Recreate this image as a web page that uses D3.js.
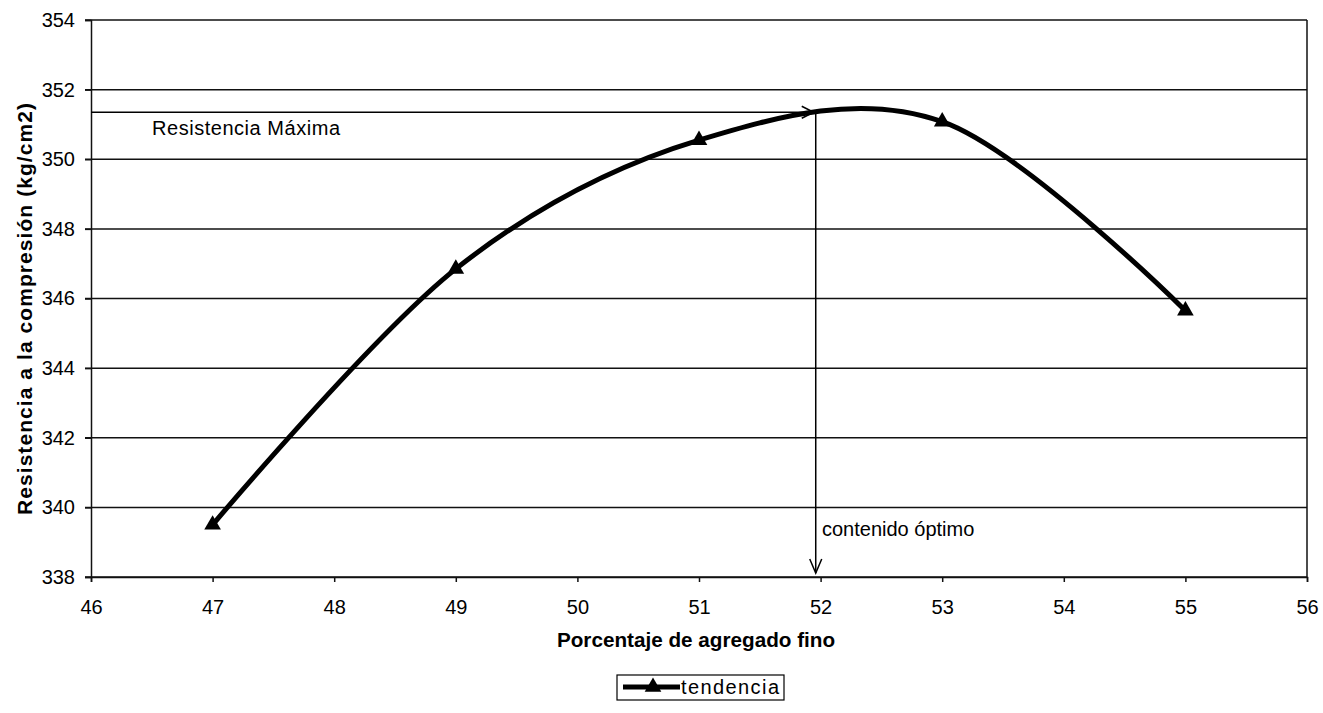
<!DOCTYPE html>
<html>
<head>
<meta charset="utf-8">
<script src="https://cdn.jsdelivr.net/npm/d3@7"></script>
<style>
  body { margin: 0; background: #fff; }
  svg text { font-family: "Liberation Sans", Arial, sans-serif; fill: #000; }
</style>
</head>
<body>
<svg id="chart" width="1323" height="713"></svg>
<script>
let porcentaje = [47, 49, 51, 53, 55];
let resistencia = [339.5, 346.85, 350.55, 351.08, 345.65];
let xTicks = [46, 47, 48, 49, 50, 51, 52, 53, 54, 55, 56];
let yTicks = [338, 340, 342, 344, 346, 348, 350, 352, 354];
let optimo = [51.96, 351.35]; // contenido óptimo, resistencia máxima

let svg = d3.select("#chart");
let plotL = 91, plotR = 1307, plotT = 20, plotB = 577;

let x = d3.scaleLinear().domain([46, 56]).range([plotL, plotR]);
let y = d3.scaleLinear().domain([338, 354]).range([plotB, plotT]);

// gridlines
svg.append("g")
  .selectAll("line")
  .data(yTicks)
  .enter()
  .append("line")
  .attr("x1", plotL - 6)
  .attr("x2", plotR)
  .attr("y1", d => y(d))
  .attr("y2", d => y(d))
  .attr("stroke", "#111")
  .attr("stroke-width", 1.5);

// axes
let yAxis = svg.append("g")
  .attr("transform", `translate(${plotL},0)`)
  .call(d3.axisLeft(y).tickValues(yTicks).tickSize(6).tickPadding(10).tickFormat(d3.format("d")));
let xAxis = svg.append("g")
  .attr("transform", `translate(0,${plotB})`)
  .call(d3.axisBottom(x).tickValues(xTicks).tickSize(5).tickPadding(18).tickFormat(d3.format("d")));

[yAxis, xAxis].forEach(a => {
  a.select(".domain").attr("stroke", "#111").attr("stroke-width", 1.5);
  a.selectAll(".tick line").attr("stroke", "#111").attr("stroke-width", 1.5);
  a.selectAll("text")
    .style("font-family", "Liberation Sans, Arial, sans-serif")
    .style("font-size", "20px")
    .attr("fill", "#000");
});

// right border of plot area
svg.append("line")
  .attr("x1", plotR).attr("x2", plotR)
  .attr("y1", plotT).attr("y2", plotB)
  .attr("stroke", "#111").attr("stroke-width", 1.5);

// annotation lines
let ox = x(optimo[0]), oy = y(optimo[1]);
let ann = svg.append("g").attr("stroke", "#000").attr("stroke-width", 1.5).attr("fill", "none");
ann.append("line").attr("x1", plotL).attr("y1", oy).attr("x2", ox - 2).attr("y2", oy);
ann.append("path").attr("d", `M${ox - 14},${oy - 6}L${ox - 2},${oy}L${ox - 14},${oy + 6}`);
ann.append("line").attr("x1", ox).attr("y1", oy).attr("x2", ox).attr("y2", plotB - 4);
ann.append("path").attr("d", `M${ox - 6},${plotB - 18}L${ox},${plotB - 4}L${ox + 6},${plotB - 18}`);

svg.append("text")
  .text("Resistencia Máxima")
  .attr("x", 152)
  .attr("y", 135)
  .attr("textLength", 188)
  .style("font-size", "20px");

svg.append("text")
  .text("contenido óptimo")
  .attr("x", 822)
  .attr("y", 536)
  .style("font-size", "20px");

// data line
let pts = porcentaje.map((p, i) => [x(p), y(resistencia[i])]);
svg.append("path")
  .datum(pts)
  .attr("d", d3.line().curve(d3.curveCardinal.tension(0)))
  .attr("fill", "none")
  .attr("stroke", "#000")
  .attr("stroke-width", 5)
  .attr("stroke-linejoin", "round");

let tri = d3.symbol().type(d3.symbolTriangle).size(120);
svg.append("g")
  .selectAll("path")
  .data(pts)
  .enter()
  .append("path")
  .attr("d", tri)
  .attr("transform", d => `translate(${d[0]},${d[1]})`)
  .attr("fill", "#000");

// axis titles
svg.append("text")
  .text("Porcentaje de agregado fino")
  .attr("x", 696)
  .attr("y", 647)
  .attr("text-anchor", "middle")
  .style("font-size", "20.7px")
  .style("font-weight", "bold");

svg.append("text")
  .text("Resistencia a la compresión (kg/cm2)")
  .attr("transform", `translate(32,309) rotate(-90)`)
  .attr("text-anchor", "middle")
  .attr("textLength", 412)
  .style("font-size", "21px")
  .style("font-weight", "bold");

// legend
let lg = svg.append("g").attr("transform", "translate(617,675)");
lg.append("rect").attr("width", 167).attr("height", 25)
  .attr("fill", "#fff").attr("stroke", "#000").attr("stroke-width", 1.2);
lg.append("line").attr("x1", 6).attr("x2", 63).attr("y1", 12).attr("y2", 12)
  .attr("stroke", "#000").attr("stroke-width", 5);
lg.append("path").attr("d", tri).attr("transform", "translate(36,12)").attr("fill", "#000");
lg.append("text").text("tendencia").attr("x", 64).attr("y", 19)
  .attr("textLength", 98)
  .style("font-size", "20px");
</script>
</body>
</html>
